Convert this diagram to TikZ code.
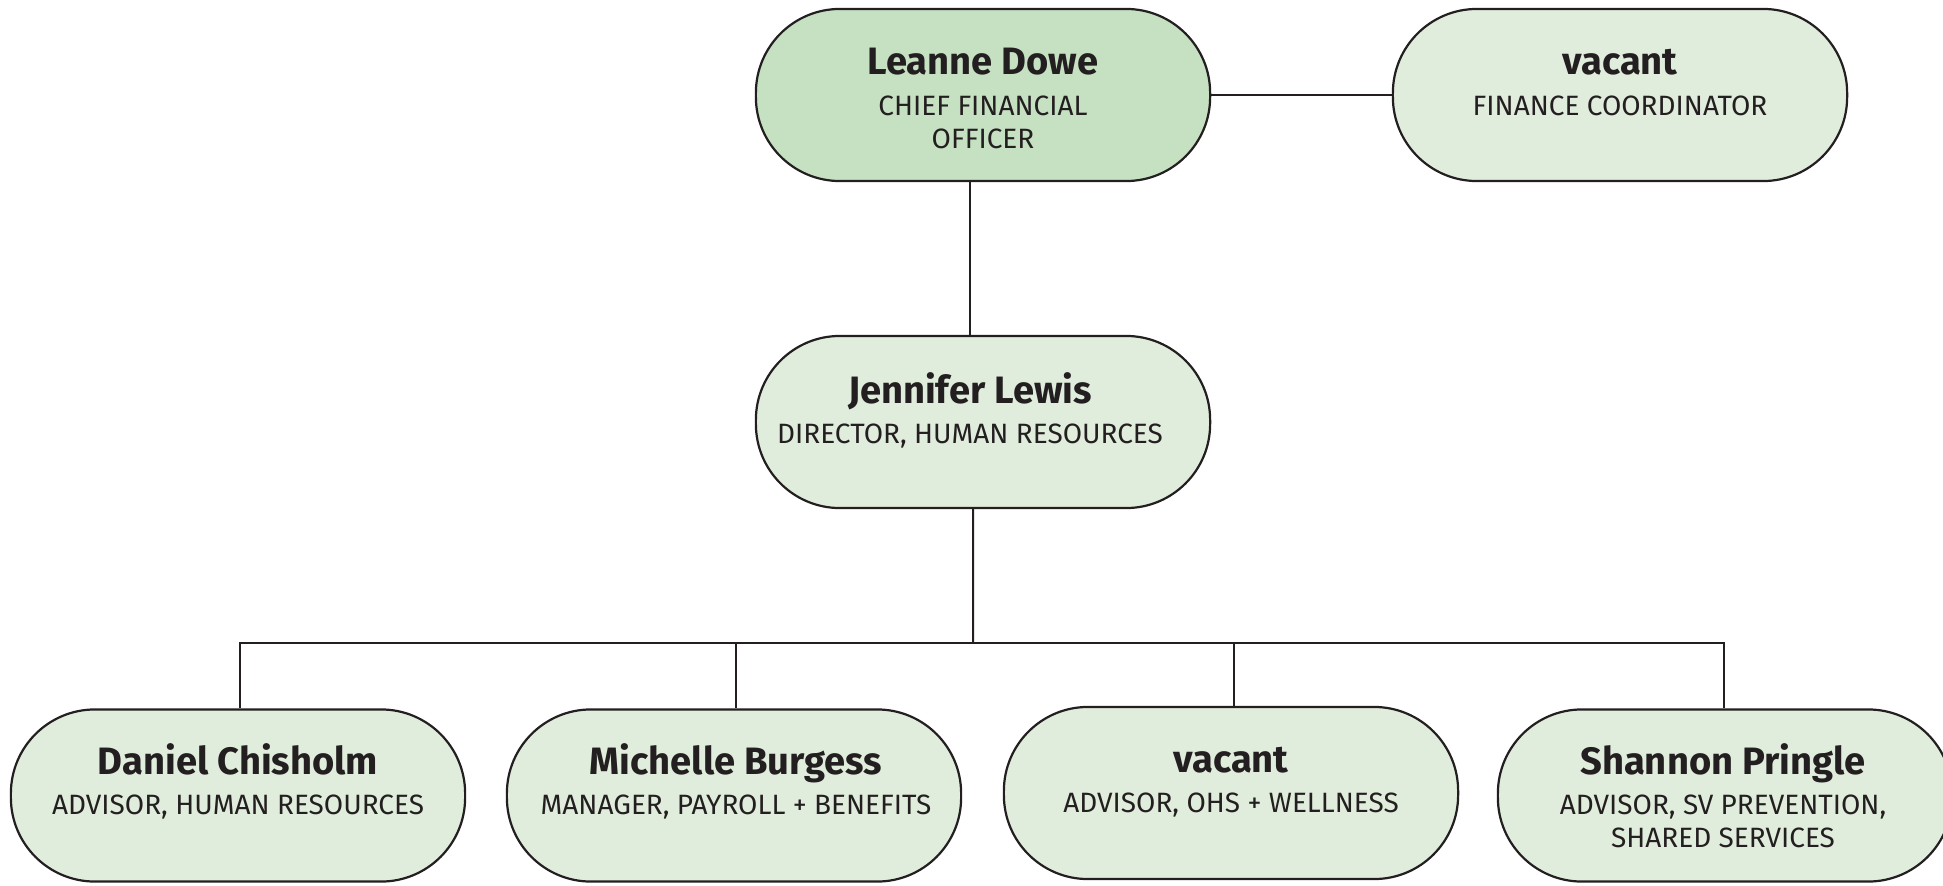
\documentclass[tikz,border=0pt]{standalone}
\usepackage{fontspec}
\setmainfont{Fira Sans}
\usepackage[svgnames]{xcolor}
\usetikzlibrary{calc}

\definecolor{LeadGreen}{HTML}{C6E0C2}
\definecolor{PaleGreen}{HTML}{E1EDDC}
\definecolor{Ink}{HTML}{231F20}
\newcommand{\whofont}{\fontsize{10.85}{12}\selectfont\bfseries}
\newcommand{\rolefont}{\fontsize{7.95}{9.4}\selectfont}

\tikzset{
  pill/.style={draw=Ink, line width=0.022cm, fill=PaleGreen, rounded corners=0.84cm,
    minimum width=4.54cm, minimum height=1.72cm, inner sep=0pt},
  who/.style={font=\whofont, text=Ink, anchor=base, inner sep=0pt},
  role/.style={font=\rolefont, text=Ink, anchor=north, align=center, inner sep=0pt},
  link/.style={draw=Ink, line width=0.02cm},
}

\begin{document}
\begin{tikzpicture}[x=0.01cm, y=-0.01cm]
    \useasboundingbox (0,0) rectangle (1943,885);
    % boxes, top row
    \node[pill, fill=LeadGreen] (cfo) at (983,95) {};
    \node[pill] (fin) at (1620,95) {};
    % middle row
    \node[pill] (dir) at (983,422) {};
    % bottom row
    \node[pill] (daniel) at (238,795.5) {};
    \node[pill] (michelle) at (734,795.5) {};
    \node[pill] (vacohs) at (1231,793) {};
    \node[pill] (shannon) at (1725,795.5) {};

    % names and titles
    \node[who] (cfo-who) at ($(cfo.north)+(0,67)$) {Leanne Dowe};
    \node[role] (cfo-role) at ($(cfo.north)+(0,87)$) {CHIEF FINANCIAL\\OFFICER};
    \node[who] (fin-who) at ($(fin.north)+(0,67)$) {vacant};
    \node[role] (fin-role) at ($(fin.north)+(0,87)$) {FINANCE COORDINATOR};
    \node[who] (dir-who) at ($(dir.north)+(-13,69)$) {Jennifer Lewis};
    \node[role] (dir-role) at ($(dir.north)+(-13,88)$) {DIRECTOR, HUMAN RESOURCES};
    \node[who] (daniel-who) at ($(daniel.north)+(0,66.5)$) {Daniel Chisholm};
    \node[role] (daniel-role) at ($(daniel.north)+(0,86)$) {ADVISOR, HUMAN RESOURCES};
    \node[who] (michelle-who) at ($(michelle.north)+(2,66.5)$) {Michelle Burgess};
    \node[role] (michelle-role) at ($(michelle.north)+(2,86)$) {MANAGER, PAYROLL + BENEFITS};
    \node[who] (vacohs-who) at ($(vacohs.north)+(0,66.5)$) {vacant};
    \node[role] (vacohs-role) at ($(vacohs.north)+(0,86)$) {ADVISOR, OHS + WELLNESS};
    \node[who] (shannon-who) at ($(shannon.north)+(-2,66.5)$) {Shannon Pringle};
    \node[role] (shannon-role) at ($(shannon.north)+(-2,86)$) {ADVISOR, SV PREVENTION,\\SHARED SERVICES};

    % connectors
    \draw[link] (cfo.east) -- (fin.west);
    \draw[link] ([xshift=-0.13cm]cfo.south) -- ([xshift=-0.13cm]dir.north);
    \coordinate (bar) at (973,643);
    \draw[link] ([xshift=-0.1cm]dir.south) -- (bar);
    \draw[link] ([xshift=0.02cm]daniel.north) -- ([xshift=0.02cm]daniel.north |- bar)
        -- ([xshift=-0.01cm]shannon.north |- bar) -- ([xshift=-0.01cm]shannon.north);
    \draw[link] ([xshift=0.02cm]michelle.north) -- ([xshift=0.02cm]michelle.north |- bar);
    \draw[link] ([xshift=0.03cm]vacohs.north) -- ([xshift=0.03cm]vacohs.north |- bar);
\end{tikzpicture}
\end{document}
